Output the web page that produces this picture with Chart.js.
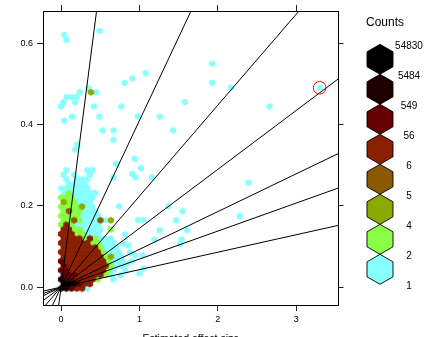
<!DOCTYPE html>
<html><head><meta charset="utf-8">
<script src="https://cdn.jsdelivr.net/npm/chart.js@4/dist/chart.umd.min.js"></script>
<style>html,body{margin:0;padding:0;background:#fff;overflow:hidden}#wrap{width:437px;height:337px;position:relative}</style>
</head><body><div id="wrap"><canvas id="c"></canvas></div>
<script>
// ---------- data ----------
const xTicks = [0, 1, 2, 3];
const yTicks = [0, 0.2, 0.4, 0.6];
const countBreaks = [54830, 5484, 549, 56, 6, 5, 4, 2, 1];
const binClasses = ['K', 'k', 'd', 'r', 'b', 'o', 'g', 'c'];          // highest count class first
const binColours = ['#000000', '#1E0000', '#660000', '#8B2000', '#8B5A00', '#8BAA00', '#88FF44', '#88FFFF'];
const lineSlopes = [1.5, 0.41, 0.224, 0.145, 0.093, 0.069, 0.043];
const highlightPoint = [3.30, 0.491];
// hexbin grid (data units)
const hexWidth = 0.067, hexRowStep = 0.0112, firstRowY = -0.0033;
// dense part of the hexbin map, one string per row from the bottom row upward; '.' = empty cell
const hexRows = [
  'Kkdrrc',
  'KKkdrr',
  'kddrrrrg..c',
  'dddrrrrrgc',
  'ddrrrrrrrgc',
  'drrrrrrrrgcc',
  'drrrrrrrrgcc',
  'rrrrrrrrgocc',
  'rrrrrrrrgccc',
  'rrrrrrrgccc',
  'rrrrrrggccc',
  'rrrrgrgccc',
  'rrrggccc',
  'rrggcccc.g',
  'grgccccc',
  'ggbgcccbco',
  'ggggcccc',
  'gbggccc',
  'ggggocc',
  'oggccc',
  'gggcccc',
  'cgccccc',
  'cccccc',
  '.cccc',
  '.c.ccc',
  'c.c..c',
  '.c...cc'
];
// isolated bins [effect size, y]
const sparseCyan = [
  [0.04,0.621],[0.07,0.609],[0.49,0.631],
  [0.24,0.48],[0.35,0.49],[0.45,0.48],
  [0.07,0.468],[0.14,0.468],[0.20,0.468],
  [0.03,0.455],[0.18,0.455],[0.00,0.445],[0.42,0.445],
  [0.14,0.42],[0.04,0.41],[0.49,0.42],
  [0.81,0.503],[0.91,0.514],[1.08,0.527],[0.77,0.445],[0.98,0.42],[1.26,0.42],[1.58,0.456],[1.93,0.55],[1.93,0.503],
  [0.53,0.386],[0.67,0.386],[0.67,0.363],[1.43,0.386],
  [0.21,0.351],[0.18,0.339],
  [0.94,0.316],[0.70,0.304],[1.02,0.293],
  [2.17,0.491],[2.66,0.445],[3.30,0.491],
  [2.39,0.257],[2.28,0.175],
  [0.91,0.279],[0.95,0.27],[1.16,0.27],[0.67,0.27],
  [0.74,0.199],[1.37,0.199],[1.55,0.187],[0.985,0.165],[1.05,0.165],[1.47,0.165],[1.26,0.14],[1.61,0.14],
  [0.82,0.13],[1.19,0.117],[1.54,0.117],[1.52,0.107],[0.86,0.103],[0.79,0.107],
  [1.05,0.046],[1.0,0.034],[0.84,0.056],[0.9,0.064],[0.78,0.064],[0.95,0.078],[1.04,0.078],[0.88,0.085],[0.82,0.04],[0.76,0.03]
];
const sparseOlive = [[0.38,0.48]];

// ---------- build ----------
const FONT = "'Liberation Sans', Arial, Helvetica, sans-serif";
function hexImage(colour, r) {
  const s = 10, cv = document.createElement('canvas');
  cv.width = s; cv.height = s;
  const g = cv.getContext('2d');
  g.beginPath();
  for (let i = 0; i < 6; i++) {
    const a = -Math.PI / 2 + i * Math.PI / 3;
    const px = s / 2 + r * Math.cos(a), py = s / 2 + r * Math.sin(a);
    i ? g.lineTo(px, py) : g.moveTo(px, py);
  }
  g.closePath(); g.fillStyle = colour; g.fill();
  return cv;
}
const pts = {}; binClasses.forEach(c => pts[c] = []);
hexRows.forEach((row, r) => {
  const m = r - 1;
  const y = firstRowY + r * hexRowStep;
  const shift = (Math.abs(m) % 2 === 0) ? 0.5 : 0;
  for (let n = 0; n < row.length; n++) {
    const ch = row[n];
    if (ch === '.') continue;
    pts[ch].push({x: (n + shift) * hexWidth, y});
  }
});
sparseCyan.forEach(p => pts.c.push({x: p[0], y: p[1]}));
sparseOlive.forEach(p => pts.o.push({x: p[0], y: p[1]}));

const datasets = [];
binClasses.forEach((c, i) => {
  datasets.push({label: String(countBreaks[i]), data: pts[c], pointStyle: hexImage(binColours[i], 3.6),
    pointRadius: 3, order: 3, clip: 0});
});
const xMin = -0.23, xMax = 3.54, yMin = -0.044, yMax = 0.68;
lineSlopes.forEach(s => {
  datasets.push({data: [{x: -1, y: -s}, {x: 5, y: 5 * s}], showLine: true, borderColor: '#000',
    borderWidth: 1, pointRadius: 0, order: 2});
});
datasets.push({data: [{x: highlightPoint[0], y: highlightPoint[1]}], pointStyle: 'circle', pointRadius: 6.3,
  borderColor: '#FF0000', borderWidth: 1, backgroundColor: 'rgba(0,0,0,0)', order: 1});

const keyPlugin = {
  id: 'hexKey',
  afterDraw(chart) {
    const ctx = chart.ctx;
    const cx = 380, top = 44.3, step = 30, R = 15;
    ctx.save();
    ctx.fillStyle = '#000';
    ctx.font = '12px ' + FONT;
    ctx.textAlign = 'center'; ctx.textBaseline = 'middle';
    ctx.fillText('Counts', 385, 23);
    binColours.forEach((col, i) => {
      const cy = top + step * i + R;
      ctx.beginPath();
      for (let k = 0; k < 6; k++) {
        const a = -Math.PI / 2 + k * Math.PI / 3;
        const px = cx + R * Math.cos(a), py = cy + R * Math.sin(a);
        k ? ctx.lineTo(px, py) : ctx.moveTo(px, py);
      }
      ctx.closePath();
      ctx.fillStyle = col; ctx.fill();
      ctx.lineWidth = 0.9; ctx.strokeStyle = '#000'; ctx.stroke();
    });
    ctx.fillStyle = '#000';
    ctx.font = '10px ' + FONT;
    countBreaks.forEach((v, i) => {
      ctx.fillText(String(v), 409, top + step * i + 1.5);
    });
    ctx.restore();
  }
};

const tickFont = {family: FONT, size: 9};
const setTicks = vals => s => { s.ticks = vals.map(v => ({value: v})); };
new Chart(document.getElementById('c'), {
  type: 'scatter',
  data: {datasets},
  options: {
    responsive: true, maintainAspectRatio: false, animation: false, events: [],
    layout: {padding: {left: 0, right: 92.5, top: 0, bottom: 0}},
    plugins: {legend: {display: false}, tooltip: {enabled: false}},
    scales: {
      x: {type: 'linear', position: 'bottom', min: xMin, max: xMax, afterBuildTicks: setTicks(xTicks),
        afterFit: s => { s.height = 32; },
        ticks: {font: tickFont, color: '#000', padding: 3, callback: v => String(v)},
        grid: {drawOnChartArea: false, drawTicks: true, tickLength: 6, color: '#222', tickColor: '#222'},
        border: {display: true, color: '#000', width: 1},
        title: {display: true, text: 'Estimated effect size', color: '#000', font: {family: FONT, size: 10.5},
          padding: {top: 0, bottom: -8}}},
      x2: {type: 'linear', axis: 'x', position: 'top', min: xMin, max: xMax, afterBuildTicks: setTicks(xTicks),
        afterFit: s => { s.height = 11; },
        ticks: {display: false},
        grid: {drawOnChartArea: false, drawTicks: true, tickLength: 6, color: '#222', tickColor: '#222'},
        border: {display: true, color: '#000', width: 1}},
      y: {type: 'linear', position: 'left', min: yMin, max: yMax, afterBuildTicks: setTicks(yTicks),
        afterFit: s => { s.width = 43; },
        ticks: {font: tickFont, color: '#000', padding: 4, callback: v => v.toFixed(1)},
        grid: {drawOnChartArea: false, drawTicks: true, tickLength: 6, color: '#222', tickColor: '#222'},
        border: {display: true, color: '#000', width: 1}},
      y2: {type: 'linear', axis: 'y', position: 'right', min: yMin, max: yMax, afterBuildTicks: setTicks(yTicks),
        afterFit: s => { s.width = 6; },
        ticks: {display: false},
        grid: {drawOnChartArea: false, drawTicks: true, tickLength: 5, color: '#222', tickColor: '#222'},
        border: {display: true, color: '#000', width: 1}}
    }
  },
  plugins: [keyPlugin]
});
</script></body></html>
